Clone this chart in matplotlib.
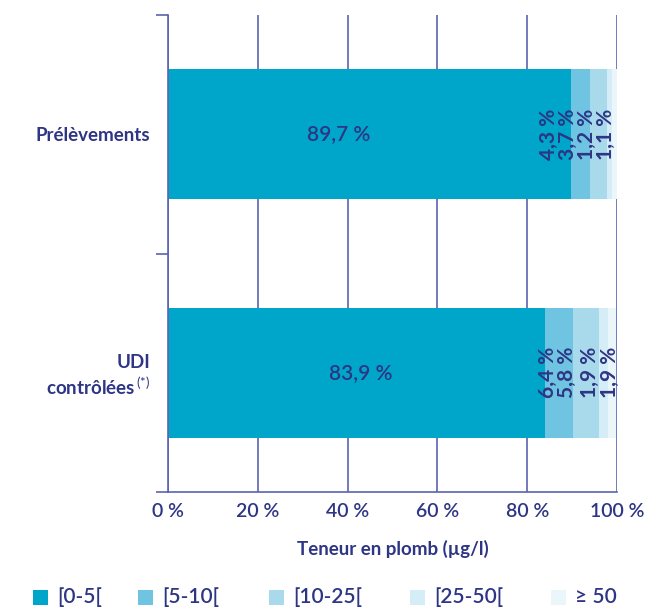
import matplotlib.pyplot as plt
from matplotlib.patches import Rectangle

categories = ["Prélèvements", "UDI\ncontrôlées$^{\\,(*)}$"]
classes = ["[0-5[", "[5-10[", "[10-25[", "[25-50[", "≥ 50"]
# share (%) per class, one list per row
values = [[89.7, 4.3, 3.7, 1.2, 1.1],
          [83.9, 6.4, 5.8, 1.9, 1.9]]
labels = [["89,7 %", "4,3 %", "3,7 %", "1,2 %", "1,1 %"],
          ["83,9 %", "6,4 %", "5,8 %", "1,9 %", "1,9 %"]]
xticks = [0, 20, 40, 60, 80, 100]
xticklabels = ["0 %", "20 %", "40 %", "60 %", "80 %", "100 %"]

colors = ["#00a6c9", "#6fc5e1", "#a9daeb", "#d4edf6", "#ebf6fb"]
txt = "#2e3585"
line = "#5b63b0"

# where the value labels sit (in %), the small ones are stacked side by side
big_x = [38, 43]
small_x = [[84.9, 89.1, 93.3, 97.6],
           [84.6, 88.8, 93.9, 98.4]]
# legend square positions (figure px)
leg_x = [33, 138, 269, 410, 551]

plt.rcParams['font.family'] = ['Lato', 'DejaVu Sans']
plt.rcParams['mathtext.fontset'] = 'custom'
plt.rcParams['mathtext.rm'] = 'Lato'
plt.rcParams['mathtext.bf'] = 'Lato:bold'
W, H = 646, 608
fig = plt.figure(figsize=(W / 100, H / 100), dpi=100)
ax = fig.add_axes([0.260, 0.191, 0.695, 0.784])

mid = "semibold"

for r in range(len(categories)):
    left = 0
    for c in range(len(classes)):
        ax.barh(r, values[r][c], left=left, height=0.545, color=colors[c],
                edgecolor="none", zorder=2)
        left += values[r][c]
    ax.text(big_x[r], r, labels[r][0], color=txt, fontsize=15, fontweight=mid,
            ha="center", va="center", zorder=3)
    for c in range(4):
        ax.text(small_x[r][c], r, labels[r][c + 1], color=txt, fontsize=15,
                fontweight="bold", rotation=90, ha="center", va="center", zorder=3)

ax.set_xlim(0, 100)
ax.set_ylim(1.5, -0.5)
ax.set_xticks(xticks)
ax.set_xticklabels(xticklabels, color=txt, fontsize=14, fontweight=mid)
ax.tick_params(axis="x", length=0, pad=8)
ax.set_yticks([0, 1])
ax.set_yticklabels(categories, color=txt, fontsize=13.5, fontweight="bold")
ax.set_yticks([-0.5, 0.5, 1.5], minor=True)
ax.tick_params(axis="y", which="major", length=0, pad=13)
ax.tick_params(axis="y", which="minor", length=8.6, width=1.2, color=line)
ax.xaxis.grid(True, color=line, linewidth=1.2, zorder=1)
ax.set_axisbelow(True)
for s in ["top", "right"]:
    ax.spines[s].set_visible(False)
for s in ["left", "bottom"]:
    ax.spines[s].set_color(line)
    ax.spines[s].set_linewidth(1.2)

ax.set_xlabel("Teneur en plomb (µg/l)", color=txt, fontsize=13.5,
              fontweight="bold", labelpad=14)

# legend, drawn by hand
for i in range(len(classes)):
    fig.patches.append(Rectangle((leg_x[i] / W, 1 - 605 / H), 15 / W, 15 / H,
                                 transform=fig.transFigure, facecolor=colors[i],
                                 edgecolor="none"))
    fig.text((leg_x[i] + 24) / W, 1 - 597 / H, classes[i], color=txt,
             fontsize=15, fontweight=mid, ha="left", va="center")

fig.savefig("out.png", dpi=100)
